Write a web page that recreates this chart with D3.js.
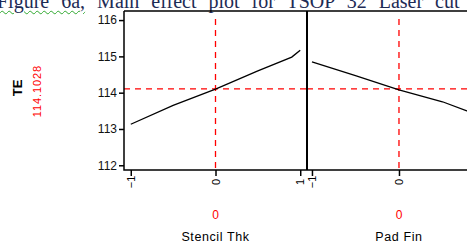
<!DOCTYPE html>
<html>
<head>
<meta charset="utf-8">
<script src="https://cdn.jsdelivr.net/npm/d3@7"></script>
<style>
  body { margin: 0; background: #fff; overflow: hidden; }
  #title {
    position: absolute; left: -3px; top: -9px; white-space: nowrap; line-height: 20px;
    font-family: "Liberation Serif", serif; font-size: 20px; color: #1d2b55; word-spacing: 7px;
  }
  #title .sq { text-decoration: underline wavy #2fa82f; text-decoration-thickness: 1px; text-underline-offset: 2px; }
  svg { position: absolute; left: 0; top: 0; }
</style>
</head>
<body>
<div id="title"><span class="sq">Figure 6a,</span> Main effect plot for TSOP 32 Laser cut stencil</div>
<div id="chart"></div>
<script>
var yName = 'TE';
var yCenter = 114.1028;
var yTicks = [112, 113, 114, 115, 116];
var xTicks = [-1, 0, 1];

var factors = ['Stencil Thk', 'Pad Fin'];
var factorCenter = [0, 0];
var stencilX = [-1, -0.5, 0, 0.5, 0.9, 1];
var stencilY = [113.13, 113.65, 114.10, 114.6, 114.98, 115.17];
var padX = [-1, -0.5, 0, 0.5, 0.78, 1];
var padY = [114.85, 114.47, 114.08, 113.75, 113.5, 113.33];

const W = 467, H = 249;
const TOP = 11, BOTTOM = 170;
const FONT = 'Liberation Sans, Arial, sans-serif';

var svg = d3.select('#chart').append('svg').attr('width', W).attr('height', H);

var y = d3.scaleLinear().domain([111.87, 116.25]).range([BOTTOM, TOP]);

var panels = [
  { name: factors[0], center: factorCenter[0], xs: stencilX, ys: stencilY,
    x: d3.scaleLinear().domain([-1.08, 1.08]).range([124, 307]) },
  { name: factors[1], center: factorCenter[1], xs: padX, ys: padY,
    x: d3.scaleLinear().domain([-1.057, 1.046]).range([307, 490]) }
];

// y axis
var yAxis = svg.append('g').attr('transform', 'translate(124,0)')
  .call(d3.axisLeft(y).tickValues(yTicks).tickSize(5).tickPadding(2).tickFormat(d3.format('d')));
yAxis.select('.domain').remove();
yAxis.selectAll('line').attr('stroke', '#000').attr('stroke-width', 1.5);
yAxis.selectAll('text').attr('font-family', FONT)
  .attr('font-size', 12).attr('fill', '#111');

svg.append('text').attr('transform', 'translate(22,88) rotate(-90)')
  .attr('text-anchor', 'middle').attr('font-family', FONT)
  .attr('font-size', 13).attr('font-weight', 'bold').text(yName);
svg.append('text').attr('transform', 'translate(41,91) rotate(-90)')
  .attr('text-anchor', 'middle').attr('font-family', FONT)
  .attr('font-size', 11).attr('letter-spacing', 0.9).attr('fill', '#f00').text(yCenter);

panels.forEach((p, i) => {
  var g = svg.append('g');
  var x0 = p.x.range()[0], x1 = p.x.range()[1];

  // reference lines
  g.append('line').attr('x1', x0).attr('x2', x1).attr('y1', y(yCenter)).attr('y2', y(yCenter))
    .attr('stroke', '#f00').attr('stroke-width', 1.3).attr('stroke-dasharray', '6,5');
  g.append('line').attr('x1', p.x(p.center)).attr('x2', p.x(p.center)).attr('y1', TOP + 8).attr('y2', BOTTOM)
    .attr('stroke', '#f00').attr('stroke-width', 1.3).attr('stroke-dasharray', '6,5');

  // effect line
  var line = d3.line().x((d) => p.x(d[0])).y((d) => y(d[1]));
  g.append('path').datum(p.xs.map((v, k) => [v, p.ys[k]]))
    .attr('d', line).attr('fill', 'none').attr('stroke', '#000').attr('stroke-width', 1.3);

  // x axis
  var xa = g.append('g').attr('transform', `translate(0,${BOTTOM})`)
    .call(d3.axisBottom(p.x).tickValues(xTicks).tickSize(6).tickFormat(''));
  xa.select('.domain').remove();
  xa.selectAll('line').attr('stroke', '#000').attr('stroke-width', 1.5);
  xTicks.filter((t) => p.x(t) < W - 4).forEach((t) => {
    g.append('text').attr('transform', `translate(${p.x(t) + 4},${BOTTOM + 12}) rotate(-90)`)
      .attr('text-anchor', 'middle').attr('font-family', FONT)
      .attr('font-size', 11).text(t === -1 ? '\u22121' : t);
  });

  g.append('text').attr('x', p.x(p.center)).attr('y', 219).attr('text-anchor', 'middle')
    .attr('font-family', FONT).attr('font-size', 12)
    .attr('fill', '#f00').text(p.center);
  g.append('text').attr('x', p.x(p.center)).attr('y', 241).attr('text-anchor', 'middle')
    .attr('font-family', FONT).attr('font-size', 12.5)
    .attr('letter-spacing', 0.6).text(p.name);
});

// frame
svg.append('path').attr('d', `M124,${TOP}H${W + 5}M124,${TOP}V${BOTTOM}H${W + 5}`)
  .attr('fill', 'none').attr('stroke', '#000').attr('stroke-width', 1.5);
svg.append('line').attr('x1', 307).attr('x2', 307).attr('y1', TOP).attr('y2', BOTTOM)
  .attr('stroke', '#000').attr('stroke-width', 2);
</script>
</body>
</html>
